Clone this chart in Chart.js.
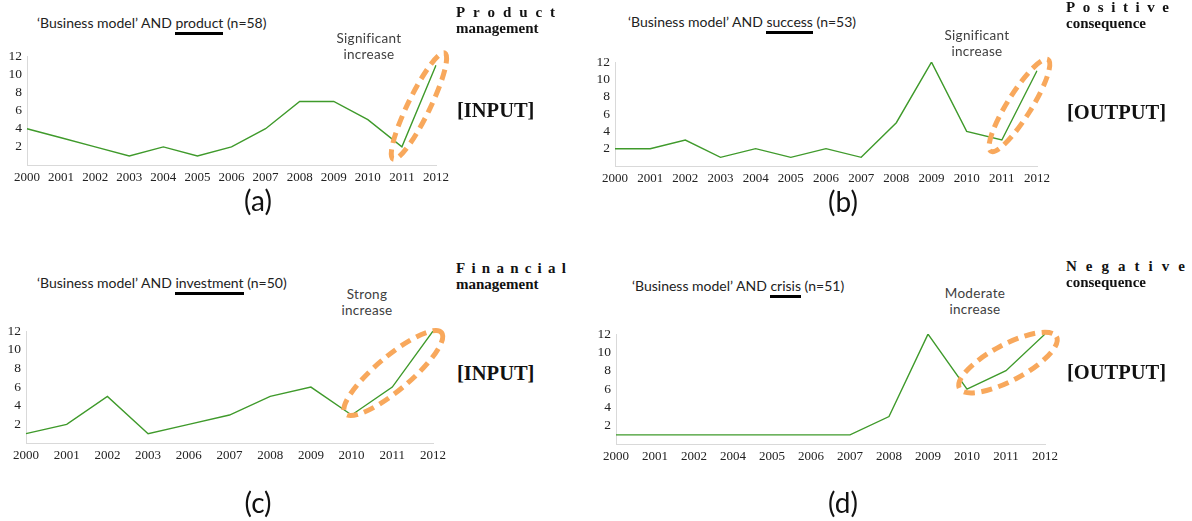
<!DOCTYPE html>
<html>
<head>
<meta charset="utf-8">
<script src="https://cdn.jsdelivr.net/npm/chart.js@4.4.1/dist/chart.umd.min.js"></script>
<style>
  html, body { margin: 0; padding: 0; background: #fff; }
  #page { position: relative; width: 1192px; height: 521px; overflow: hidden; font-family: Lato, "Open Sans", sans-serif; }
  .abs { position: absolute; white-space: nowrap; }
  .title { font-size: 14px; line-height: 16px; color: #222; }
  .title .kw { border-bottom: 3px solid #000; padding-bottom: 1px; }
  .note { font-size: 13.5px; line-height: 16px; color: #404040; text-align: center; letter-spacing: 0.3px; transform: translateX(-50%); }
  .side { font-family: "Liberation Serif", serif; font-weight: bold; font-size: 15px; line-height: 16px; color: #111; }
  .spread { display: flex; justify-content: space-between; }
  .tag { font-family: "Liberation Serif", serif; font-weight: bold; font-size: 20.5px; line-height: 24px; color: #111; }
  .letter { font-size: 28px; line-height: 30px; color: #111; transform: translateX(-50%); }
  canvas { position: absolute; }
</style>
</head>
<body>
<div id="page"></div>
<script>
// Yearly article counts per keyword query
const yearsProduct = ['2000', '2001', '2002', '2003', '2004', '2005', '2006', '2007', '2008', '2009', '2010', '2011', '2012'];
const countsProduct = [4, 3, 2, 1, 2, 1, 2, 4, 7, 7, 5, 2, 11];

const yearsSuccess = ['2000', '2001', '2002', '2003', '2004', '2005', '2006', '2007', '2008', '2009', '2010', '2011', '2012'];
const countsSuccess = [2, 2, 3, 1, 2, 1, 2, 1, 5, 12, 4, 3, 11];

const yearsInvestment = ['2000', '2001', '2002', '2003', '2006', '2007', '2008', '2009', '2010', '2011', '2012'];
const countsInvestment = [1, 2, 5, 1, 2, 3, 5, 6, 3, 6, 12];

const yearsCrisis = ['2000', '2001', '2002', '2004', '2005', '2006', '2007', '2008', '2009', '2010', '2011', '2012'];
const countsCrisis = [1, 1, 1, 1, 1, 1, 1, 3, 12, 6, 8, 12];

const yTickValues = [2, 4, 6, 8, 10, 12];

const GREEN = '#3f9a2b';
const RING = '#f8a85c';
const TICK_FONT = "'Liberation Serif', 'DejaVu Serif', serif";
const page = document.getElementById('page');

// Dashed ellipse that highlights the final stretch of a series
const ringMark = {
  id: 'ringMark',
  afterDatasetsDraw(chart, args, opts) {
    if (!opts || opts.from === undefined) return;
    const pts = chart.getDatasetMeta(0).data;
    const a = pts[opts.from], b = pts[opts.to];
    const cx = (a.x + b.x) / 2 + (opts.dx || 0);
    const cy = (a.y + b.y) / 2 + (opts.dy || 0);
    const ctx = chart.ctx;
    ctx.save();
    ctx.strokeStyle = RING;
    ctx.lineWidth = 5;
    ctx.setLineDash([11, 6.5]);
    ctx.beginPath();
    ctx.ellipse(cx, cy, opts.rx, opts.ry, -opts.angle * Math.PI / 180, 0, Math.PI * 2);
    ctx.stroke();
    ctx.restore();
  }
};

function addDiv(cls, html, left, top, extra) {
  const d = document.createElement('div');
  d.className = 'abs ' + cls;
  d.innerHTML = html;
  d.style.left = left + 'px';
  d.style.top = top + 'px';
  if (extra) Object.assign(d.style, extra);
  page.appendChild(d);
  return d;
}

function spreadWord(word) {
  return word.split('').map(c => '<span>' + c + '</span>').join('');
}

function makePanel(p) {
  const yW = 40, padT = 12, padR = 22, xH = 30;
  const w = (p.area.r - p.area.l) + yW + padR;
  const h = (p.area.b - p.area.t) + padT + xH;
  const cv = document.createElement('canvas');
  cv.width = w; cv.height = h;
  cv.style.left = (p.area.l - yW) + 'px';
  cv.style.top = (p.area.t - padT) + 'px';
  cv.style.width = w + 'px';
  cv.style.height = h + 'px';
  page.appendChild(cv);

  const axisBorder = { display: true, color: '#d9d9d9', width: 1 };
  new Chart(cv, {
    type: 'line',
    data: {
      labels: p.labels,
      datasets: [{ data: p.data, borderColor: GREEN, borderWidth: 1.4, pointRadius: 0, tension: 0, fill: false }]
    },
    options: {
      responsive: false,
      animation: false,
      devicePixelRatio: 1,
      layout: { padding: { top: padT, right: padR, left: 0, bottom: 0 } },
      plugins: { legend: { display: false }, tooltip: { enabled: false }, ringMark: p.ring },
      scales: {
        x: {
          type: 'category', offset: false,
          grid: { display: false, drawTicks: false },
          border: axisBorder,
          ticks: { autoSkip: false, maxRotation: 0, minRotation: 0, padding: 5, color: '#222',
                   font: { family: TICK_FONT, size: 13 } },
          afterFit: s => { s.height = xH; }
        },
        y: {
          type: 'linear', min: 0, max: 12,
          grid: { display: false, drawTicks: false },
          border: axisBorder,
          afterBuildTicks: s => { s.ticks = yTickValues.map(v => ({ value: v })); },
          ticks: { padding: 5, color: '#222', font: { family: TICK_FONT, size: 13.5 } },
          afterFit: s => { s.width = yW; }
        }
      }
    },
    plugins: [ringMark]
  });

  // query title with underlined keyword
  addDiv('title', '‘Business model’ AND <span class="kw">' + p.keyword + '</span> (n=' + p.n + ')', p.titleX, p.titleY);
  // trend note
  addDiv('note', p.note.join('<br>'), p.noteX, p.noteY);
  // side category label
  addDiv('side spread', spreadWord(p.side[0]), p.sideX, p.sideY, { width: p.sideW + 'px' });
  addDiv('side', p.side[1], p.sideX, p.sideY + 16);
  addDiv('tag', p.tag, p.sideX + 1, p.tagY);
  addDiv('letter', '(' + p.letter + ')', p.letterX, p.letterY);
}

makePanel({
  labels: yearsProduct, data: countsProduct,
  area: { l: 27, r: 436, t: 55, b: 165 },
  keyword: 'product', n: 58, titleX: 37, titleY: 15,
  note: ['Significant', 'increase'], noteX: 369, noteY: 30,
  side: ['Product', 'management'], sideX: 456, sideY: 4, sideW: 99,
  tag: '[INPUT]', tagY: 98,
  letter: 'a', letterX: 258, letterY: 185,
  ring: { from: 11, to: 12, angle: 64, rx: 59, ry: 11 }
});

makePanel({
  labels: yearsSuccess, data: countsSuccess,
  area: { l: 615, r: 1037, t: 61, b: 166 },
  keyword: 'success', n: 53, titleX: 628, titleY: 14,
  note: ['Significant', 'increase'], noteX: 977, noteY: 27,
  side: ['Positive', 'consequence'], sideX: 1066, sideY: -1, sideW: 103,
  tag: '[OUTPUT]', tagY: 100,
  letter: 'b', letterX: 843, letterY: 186,
  ring: { from: 11, to: 12, angle: 58, rx: 54, ry: 12 }
});

makePanel({
  labels: yearsInvestment, data: countsInvestment,
  area: { l: 26, r: 433, t: 330, b: 443 },
  keyword: 'investment', n: 50, titleX: 37, titleY: 275,
  note: ['Strong', 'increase'], noteX: 367, noteY: 286,
  side: ['Financial', 'management'], sideX: 456, sideY: 260, sideW: 110,
  tag: '[INPUT]', tagY: 361,
  letter: 'c', letterX: 258, letterY: 487,
  ring: { from: 8, to: 10, angle: 40, rx: 63, ry: 17, dx: 1 }
});

makePanel({
  labels: yearsCrisis, data: countsCrisis,
  area: { l: 616, r: 1045, t: 333, b: 444 },
  keyword: 'crisis', n: 51, titleX: 632, titleY: 278,
  note: ['Moderate', 'increase'], noteX: 975, noteY: 285,
  side: ['Negative', 'consequence'], sideX: 1066, sideY: 258, sideW: 119,
  tag: '[OUTPUT]', tagY: 360,
  letter: 'd', letterX: 843, letterY: 487,
  ring: { from: 9, to: 11, angle: 28, rx: 55, ry: 18, dx: 2, dy: 1 }
});
</script>
</body>
</html>
